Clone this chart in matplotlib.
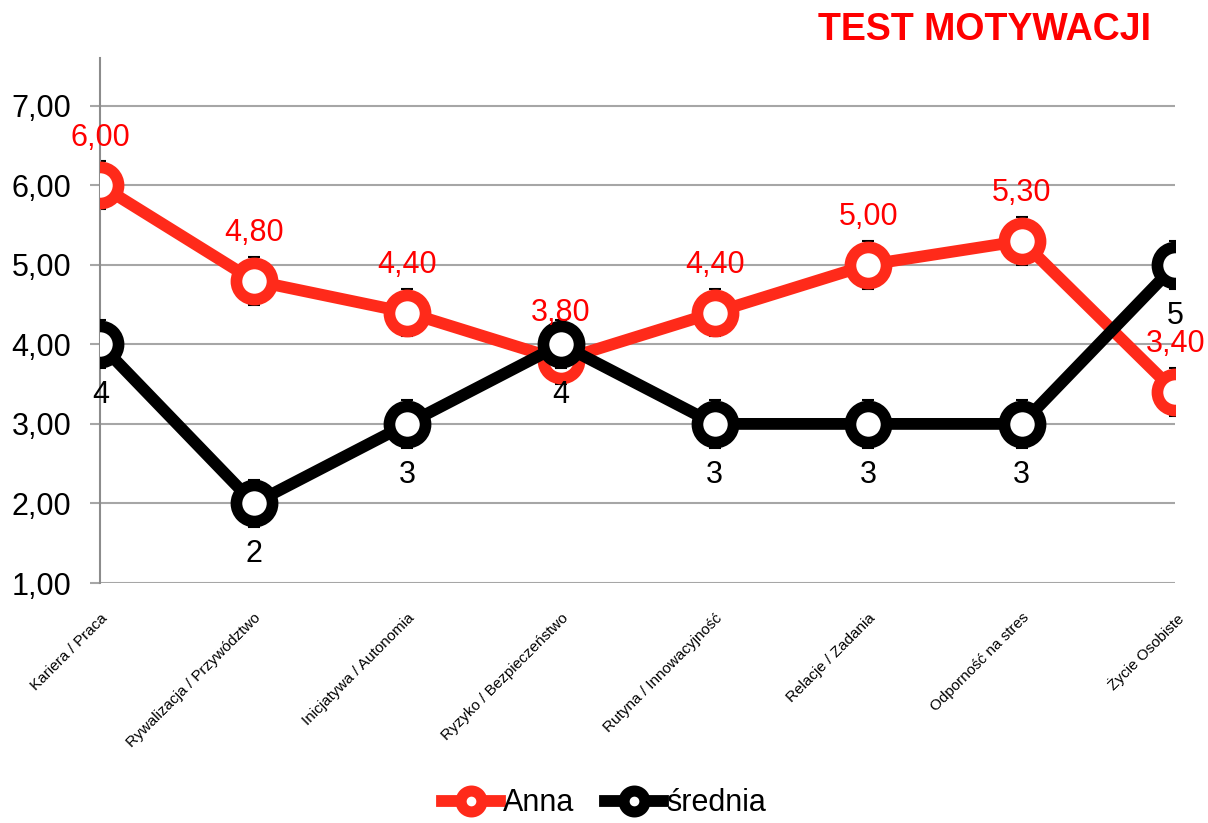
import matplotlib.pyplot as plt
import numpy as np
from matplotlib.lines import Line2D

categories = ["Kariera / Praca", "Rywalizacja / Przywództwo", "Inicjatywa / Autonomia",
              "Ryzyko / Bezpieczeństwo", "Rutyna / Innowacyjność", "Relacje / Zadania",
              "Odporność na stres", "Życie Osobiste"]
anna = [6.0, 4.8, 4.4, 3.8, 4.4, 5.0, 5.3, 3.4]
srednia = [4, 2, 3, 4, 3, 3, 3, 5]
err = 0.3

plt.rcParams['font.family'] = ['Liberation Sans', 'DejaVu Sans']

fig = plt.figure(figsize=(12.08, 8.23), dpi=100)
ax = fig.add_axes([0.083, 0.2916, 0.89, 0.638])

x = np.arange(len(categories))
red = '#FF2A1A'

# linie z markerami + małe słupki błędów
for vals, col, z in [(anna, red, 3), (srednia, 'black', 4)]:
    ax.errorbar(x, vals, yerr=err, fmt='none', ecolor='black', elinewidth=1.2,
                capsize=4.5, capthick=1.5, zorder=z - 0.5)
    ax.plot(x, vals, color=col, lw=8.5, marker='o', ms=26, mew=8.4,
            mfc='white', mec=col, zorder=z, solid_capstyle='round')

for xi, v in zip(x, anna):
    ax.text(xi, v + 0.41, f"{v:.2f}".replace('.', ','), color='#FF0000',
            fontsize=22, ha='center', va='bottom', zorder=5)
for xi, v in zip(x, srednia):
    ax.text(xi, v - 0.45, str(v), color='black',
            fontsize=22, ha='center', va='top', zorder=5)

ax.set_xlim(0, 7)
ax.set_ylim(1, 7.6)
ax.set_yticks(np.arange(1, 8))
ax.set_yticklabels([f"{v:.2f}".replace('.', ',') for v in np.arange(1, 8)], fontsize=22)
ax.yaxis.grid(True, color='#A6A6A6', lw=1.5)
ax.set_axisbelow(True)
ax.tick_params(axis='y', length=7, color='#A6A6A6', width=1.5, pad=14)
ax.set_xticks(x)
ax.set_xticklabels(categories, rotation=45, ha='right', va='top',
                   rotation_mode='anchor', fontsize=11)
ax.tick_params(axis='x', length=0, pad=20)
for s in ['top', 'right', 'bottom']:
    ax.spines[s].set_visible(False)
ax.spines['left'].set_color('#8C8C8C')
ax.spines['left'].set_linewidth(1.5)

fig.text(0.953, 0.963, "TEST MOTYWACJI", color='#FF0000', fontsize=27,
         fontweight='bold', ha='right', va='center')

handles = [Line2D([], [], color=red, lw=8.5, marker='o', ms=15, mew=8, mfc='white', mec=red),
           Line2D([], [], color='black', lw=8.5, marker='o', ms=15, mew=8, mfc='white', mec='black')]
fig.legend(handles, ["Anna", "średnia"], loc='center', bbox_to_anchor=(0.5, 0.024),
           ncol=2, frameon=False, fontsize=22, handlelength=1.9, handletextpad=0.1,
           columnspacing=1.0)

fig.savefig("out.png", dpi=100)
